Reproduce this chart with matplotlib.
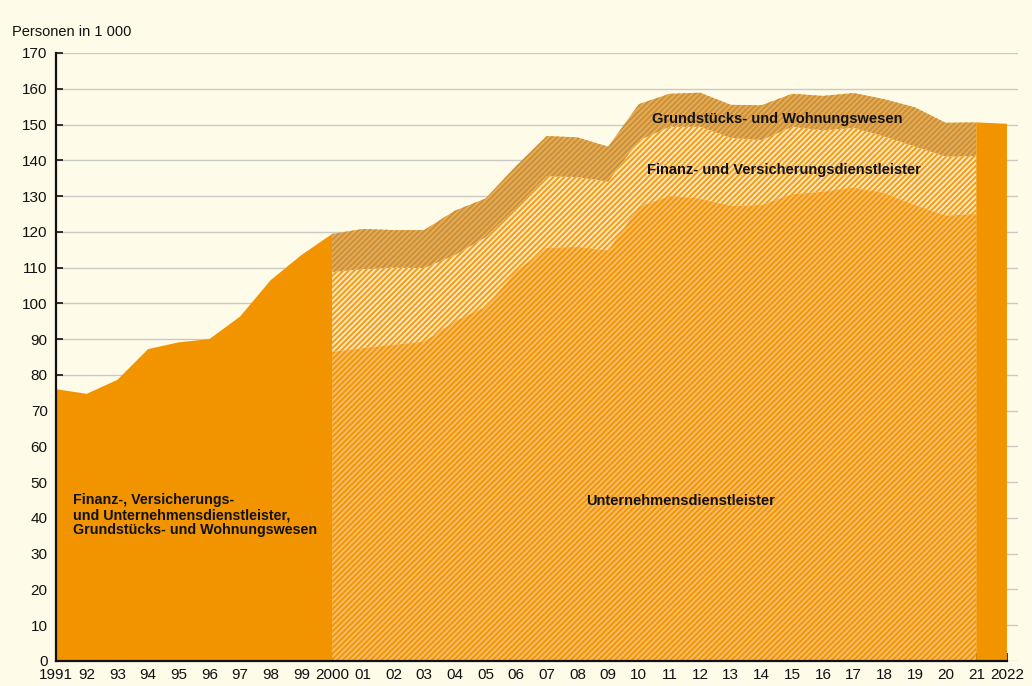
import matplotlib
matplotlib.use("Agg")
import matplotlib.pyplot as plt
import numpy as np

# ---- data ----
years_early = [1991, 1992, 1993, 1994, 1995, 1996, 1997, 1998, 1999, 2000]
total_early = [76.0, 74.7, 78.6, 87.2, 89.1, 90.0, 96.3, 106.5, 113.5, 119.4]

years_mid = list(range(2000, 2022))
unternehmen = [86.4, 87.5, 88.4, 89.3, 95.0, 99.0, 109.0, 115.5, 115.8, 114.8, 127.0,
               130.0, 129.3, 127.2, 127.5, 130.5, 131.2, 132.4, 130.8, 127.5, 124.5, 125.0]
finanz = [22.4, 22.1, 21.6, 20.6, 18.5, 19.5, 17.9, 20.1, 19.5, 19.3, 18.6,
          19.4, 20.1, 19.1, 18.2, 18.9, 17.2, 16.7, 15.9, 16.4, 16.6, 16.2]
grundstueck = [10.6, 11.2, 10.5, 10.6, 12.4, 10.8, 11.5, 11.2, 11.1, 9.7, 10.1,
               9.2, 9.5, 9.2, 9.7, 9.2, 9.6, 9.7, 10.4, 10.9, 9.4, 9.4]

years_late = [2021, 2022]
total_late = [150.6, 150.2]

xtick_years = list(range(1991, 2023))
xtick_labels = ["1991"] + [f"{y % 100:02d}" for y in range(1992, 2000)] + ["2000"] + \
               [f"{y % 100:02d}" for y in range(2001, 2022)] + ["2022"]
yticks = list(range(0, 171, 10))

# ---- style ----
BG = "#fefbe9"
ORANGE = "#f29400"
plt.rcParams["font.family"] = ["Liberation Sans", "DejaVu Sans"]
plt.rcParams["hatch.linewidth"] = 1.5

fig = plt.figure(figsize=(10.32, 6.86), dpi=100, facecolor=BG)
ax = fig.add_axes([56 / 1032, 25 / 686, (1018 - 56) / 1032, (661 - 53) / 686])
ax.set_facecolor(BG)

u = np.array(unternehmen)
f = np.array(finanz)
g = np.array(grundstueck)

HATCH = "//////"
ax.fill_between(years_early, 0, total_early, facecolor=ORANGE, linewidth=0, zorder=2)
ax.fill_between(years_mid, 0, u, facecolor=ORANGE, edgecolor="#f8bc68",
                hatch=HATCH, linewidth=0, zorder=2)
ax.fill_between(years_mid, u, u + f, facecolor="#f39a10", edgecolor="#fde6bb",
                hatch=HATCH, linewidth=0, zorder=2)
ax.fill_between(years_mid, u + f, u + f + g, facecolor="#f0ab48", edgecolor="#c29246",
                hatch=HATCH, linewidth=0, zorder=2)
ax.fill_between(years_late, 0, total_late, facecolor=ORANGE, linewidth=0, zorder=2)

ax.set_xlim(1991, 2022.36)
ax.set_ylim(0, 170)
ax.set_yticks(yticks)
ax.set_xticks(xtick_years)
ax.set_xticklabels(xtick_labels)
ax.grid(axis="y", color="#c9c9c6", linewidth=1.0, zorder=0)
ax.set_axisbelow(True)

for s in ["top", "right"]:
    ax.spines[s].set_visible(False)
for s in ["left", "bottom"]:
    ax.spines[s].set_linewidth(1.6)
    ax.spines[s].set_color("#111111")
    ax.spines[s].set_zorder(5)
ax.spines["bottom"].set_bounds(1991, 2022)

ax.tick_params(axis="y", direction="in", length=5, width=1.2, pad=6,
               labelsize=11, colors="#111111")
ax.tick_params(axis="x", direction="in", length=6, width=1.2, pad=5,
               labelsize=11, colors="#111111")

fig.text(12 / 1032, 1 - 32 / 686, "Personen in 1 000", fontsize=10.5,
         va="center", ha="left", color="#111111")

lab = dict(fontsize=10.5, fontweight="bold", color="#111111", zorder=6)
ax.text(1991.55, 40.8, "Finanz-, Versicherungs-\nund Unternehmensdienstleister,\nGrundstücks- und Wohnungswesen",
        ha="left", va="center", linespacing=1.1, fontsize=10.3, fontweight="bold",
        color="#111111", zorder=6)
ax.text(2011.35, 44.7, "Unternehmensdienstleister", ha="center", va="center", **lab)
ax.text(2010.26, 137.3, "Finanz- und Versicherungsdienstleister", ha="left", va="center", **lab)
ax.text(2010.43, 151.6, "Grundstücks- und Wohnungswesen", ha="left", va="center", **lab)

fig.savefig("out.png", dpi=100, facecolor=BG)
